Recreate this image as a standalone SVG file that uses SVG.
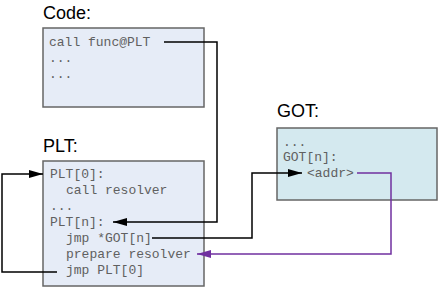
<svg xmlns="http://www.w3.org/2000/svg" width="438" height="288" viewBox="0 0 438 288">
<style>
.title{font-family:"Liberation Sans",Arial,sans-serif;font-size:18px;fill:#000}
.code{font-family:"Liberation Mono","Courier New",monospace;font-size:13px;fill:#606060}
.box{stroke:#666;stroke-width:1.5}
.con{fill:none;stroke:#000;stroke-width:1.5}
.pur{fill:none;stroke:#7030a0;stroke-width:1.5}
</style>
<defs>
<marker id="ah" viewBox="0 0 14 8" refX="14" refY="4" markerWidth="14" markerHeight="8" markerUnits="userSpaceOnUse" orient="auto">
<path d="M0,0 L14,4 L0,8 z" fill="#000"/>
</marker>
<marker id="ahp" viewBox="0 0 14 8" refX="14" refY="4" markerWidth="14" markerHeight="8" markerUnits="userSpaceOnUse" orient="auto">
<path d="M0,0 L14,4 L0,8 z" fill="#7030a0"/>
</marker>
</defs>
<rect width="438" height="288" fill="#fff"/>
<g id="code">
<text class="title" x="43" y="19">Code:</text>
<rect class="box" x="43" y="28" width="161" height="79" fill="#e6ecf7"/>
<text class="code" x="49" y="46">call func@PLT</text>
<text class="code" x="49" y="62">...</text>
<text class="code" x="49" y="78">...</text>
</g>
<g id="plt">
<text class="title" x="43" y="152">PLT:</text>
<rect class="box" x="43" y="161" width="161" height="125" fill="#e6ecf7"/>
<text class="code" x="50" y="178">PLT[0]:</text>
<text class="code" x="66" y="194">call resolver</text>
<text class="code" x="50" y="210">...</text>
<text class="code" x="50" y="226">PLT[n]:</text>
<text class="code" x="66" y="242">jmp *GOT[n]</text>
<text class="code" x="66" y="258">prepare resolver</text>
<text class="code" x="66" y="274">jmp PLT[0]</text>
</g>
<g id="got">
<text class="title" x="277" y="117">GOT:</text>
<rect class="box" x="277" y="128" width="160" height="72" fill="#d4e9ef"/>
<text class="code" x="283" y="146">...</text>
<text class="code" x="283" y="161">GOT[n]:</text>
<text class="code" x="307" y="177">&lt;addr&gt;</text>
</g>
<g id="connectors">
<path class="con" d="M164,42 H217 V222 H113" marker-end="url(#ah)"/>
<path class="con" d="M152,238 H252 V173 H302" marker-end="url(#ah)"/>
<path class="con" d="M57,272 H2 V174 H43" marker-end="url(#ah)"/>
<path class="pur" d="M357,173 H391 V254 H197" marker-end="url(#ahp)"/>
</g>
</svg>
